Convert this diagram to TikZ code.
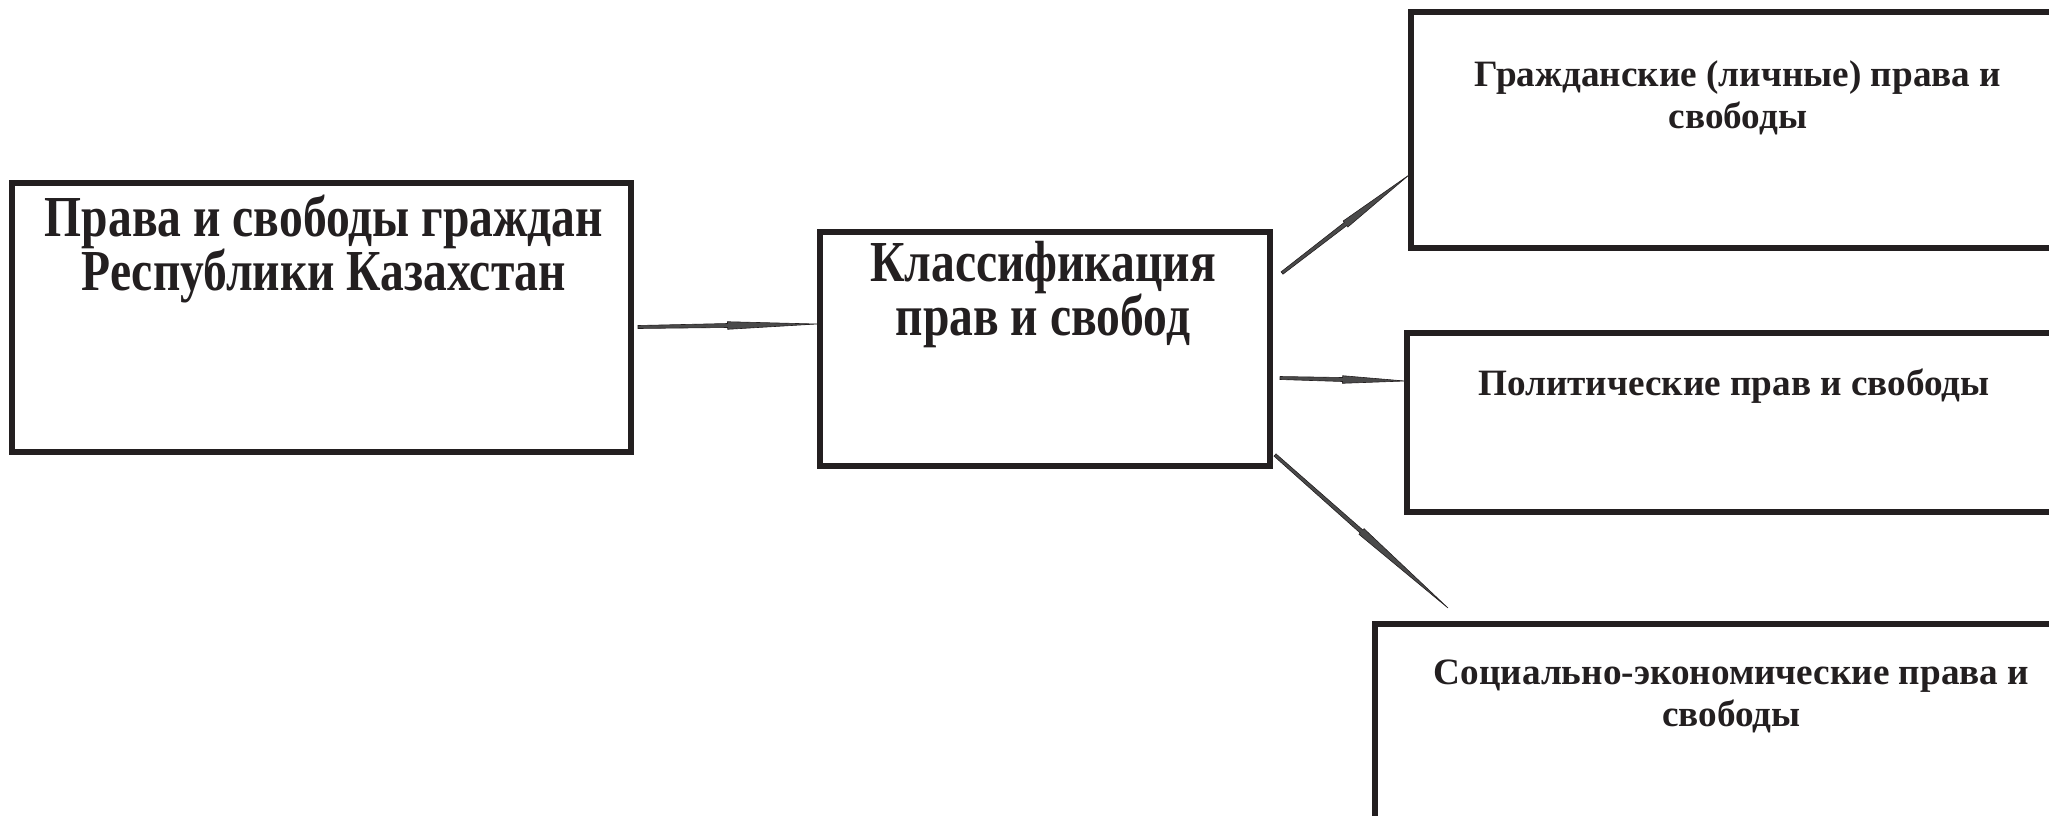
\documentclass[tikz,border=0pt]{standalone}
\usepackage{fontspec}
\setmainfont{Liberation Serif}
\newfontfamily\condfont{Liberation Serif}[FakeStretch=0.82]
\usetikzlibrary{calc}
\definecolor{ink}{HTML}{231F20}
\definecolor{conngray}{HTML}{4A4A4A}
\tikzset{
  box/.style={draw=ink, line width=3pt, rectangle, inner sep=0pt},
  bigtxt/.style={font=\condfont\bfseries\fontsize{29}{27}\selectfont, align=center, text=ink, inner sep=0pt},
  smalltxt/.style={font=\bfseries\fontsize{18.6}{21}\selectfont, align=center, text=ink, inner sep=0pt},
  conn/.style={fill=conngray, draw=ink, line width=0.3pt, line join=miter},
}
\newcommand{\taperconn}[2]{%
  \path[conn] ($(#1)!0.75pt!90:(#2)$) -- ($(#1)!0.5!(#2)!1pt!90:(#2)$) -- ($(#1)!0.5!(#2)!1.9pt!90:(#2)$) -- (#2) -- ($(#1)!0.5!(#2)!1.9pt!-90:(#2)$) -- ($(#1)!0.5!(#2)!1pt!-90:(#2)$) -- ($(#1)!0.75pt!-90:(#2)$) -- cycle;}
\begin{document}
\begin{tikzpicture}[x=0.5pt, y=-0.5pt]
\useasboundingbox (0,0) rectangle (2049,815);
\clip (0,0) rectangle (2049,815);
% boxes
\node[box, minimum width=309.5pt, minimum height=134.5pt] (A) at (321.5,317.5) {};
\node[box, minimum width=225pt, minimum height=117pt] (B) at (1045,349) {};
\node[box, minimum width=344.5pt, minimum height=118pt] (C) at (1755.5,130) {};
\node[box, minimum width=346.5pt, minimum height=89.5pt] (D) at (1753.5,422) {};
\node[box, minimum width=362.5pt, minimum height=138pt] (E) at (1737.5,762) {};
% texts
\node[bigtxt] (At) at (324,249) {Права и свободы граждан\\Республики Казахстан};
\node[bigtxt] (Bt) at (1043,295) {Классификация\\прав и свобод};
\node[smalltxt] (Ct) at (1738,98) {Гражданские (личные) права и\\свободы};
\node[smalltxt] (Dt) at (1734,386) {Политические прав и свободы};
\node[smalltxt] (Et) at (1731.5,696) {Социально-экономические права и\\свободы};
% connector ends
\coordinate (a1) at (638,327);
\coordinate (b1) at (817,324);
\coordinate (b2) at (1282,273);
\coordinate (c2) at (1409,175);
\coordinate (b3) at (1280,378);
\coordinate (d3) at (1405,381);
\coordinate (b4) at (1275,455);
\coordinate (e4) at (1448,608);
\taperconn{a1}{b1}
\taperconn{b2}{c2}
\taperconn{b3}{d3}
\taperconn{b4}{e4}
\end{tikzpicture}
\end{document}
